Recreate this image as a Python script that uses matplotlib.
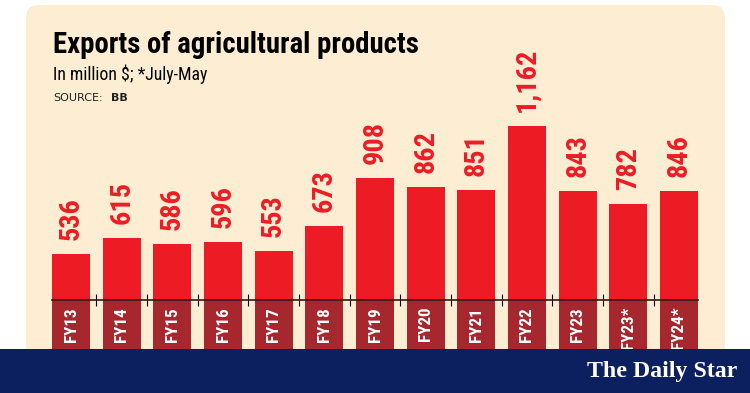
import numpy as np
import matplotlib
matplotlib.use("Agg")
import matplotlib.pyplot as plt
from matplotlib import font_manager
from matplotlib.patches import FancyBboxPatch, Rectangle

# data
years = ["FY13", "FY14", "FY15", "FY16", "FY17", "FY18", "FY19",
         "FY20", "FY21", "FY22", "FY23", "FY23*", "FY24*"]
exports = [536, 615, 586, 596, 553, 673, 908, 862, 851, 1162, 843, 782, 846]

base = 311  # value where the axis line sits (truncated axis)

# pick a narrow font if there is one
names = {f.name for f in font_manager.fontManager.ttflist}
cond_names = sorted({f.name for f in font_manager.fontManager.ttflist
                     if f.stretch in ("condensed", "semi-condensed", "extra-condensed")})
narrow_family = "Roboto"
for cand in ["Liberation Sans Narrow", "DejaVu Sans Condensed", "Roboto Condensed",
             "Noto Sans Condensed", "Open Sans Condensed"] + cond_names:
    if cand in names:
        narrow_family = cand
        break

red = "#ED1C24"
dark_red = "#A6282E"
cream = "#FDEED3"
navy = "#0C1F5E"

fig = plt.figure(figsize=(7.5, 3.93), dpi=100)
fig.patch.set_facecolor("white")

# cream panel and navy footer band
panel = FancyBboxPatch((0.26, 0.30), 6.99, 3.58, boxstyle="round,pad=0,rounding_size=0.13",
                       transform=fig.dpi_scale_trans, facecolor=cream, edgecolor="none", zorder=-1)
fig.add_artist(panel)
band = Rectangle((0, 0), 7.5, 0.44, transform=fig.dpi_scale_trans,
                 facecolor=navy, edgecolor="none", zorder=5)
fig.add_artist(band)

# axes placed in pixels
W, H = 750, 393
left_px, right_px = 45.67, 704.33
bottom_px, top_px = 349, 20
ax = fig.add_axes([left_px / W, 1 - bottom_px / H, (right_px - left_px) / W, (bottom_px - top_px) / H])
ax.set_facecolor("none")

px_per_unit = 0.2045
ylow = base - (bottom_px - 300) / px_per_unit
yhigh = base + (300 - top_px) / px_per_unit
ax.set_ylim(ylow, yhigh)
ax.set_xlim(-0.5, len(years) - 0.5)

x = np.arange(len(years))
bw = 0.75
ax.bar(x, exports, width=bw, color=red, zorder=1)
ax.bar(x, base - ylow, bottom=ylow, width=bw, color=dark_red, zorder=1)

val_texts = []
for i, v in enumerate(exports):
    t = ax.annotate(f"{v:,}", xy=(i, v), xytext=(0, 10), textcoords="offset points",
                    rotation=90, ha="center", va="bottom", fontsize=20, fontweight="bold",
                    color=red, family=narrow_family)
    val_texts.append(t)

fy_texts = []
for i, lab in enumerate(years):
    t = ax.annotate(lab, xy=(i, base), xytext=(0, -5), textcoords="offset points",
                    rotation=90, ha="center", va="top", fontsize=14, fontweight="bold",
                    color="white", family=narrow_family)
    fy_texts.append(t)

for s in ["top", "left", "right"]:
    ax.spines[s].set_visible(False)
ax.spines["bottom"].set_position(("data", base))
ax.spines["bottom"].set_bounds(-bw / 2, len(years) - 1 + bw / 2)
ax.spines["bottom"].set_color("#3a1616")
ax.spines["bottom"].set_linewidth(1.2)
ax.set_xticks(x[:-1] + 0.5)
ax.tick_params(axis="x", direction="inout", length=8, width=0.8, color="black", labelbottom=False)
ax.set_yticks([])

# titles
title = fig.text(53 / W, 1 - 53 / H, "Exports of agricultural products", fontsize=20, fontweight="bold",
                 color="black", ha="left", va="baseline", family=narrow_family)
sub = fig.text(53 / W, 1 - 80 / H, "In million $; *July-May", fontsize=13,
               color="black", ha="left", va="baseline", family=narrow_family)
src = fig.text(53 / W, 1 - 101 / H, "SOURCE:", fontsize=8, color="#222222", ha="left", va="baseline",
               family="DejaVu Sans")
bb = fig.text(111 / W, 1 - 101 / H, "BB", fontsize=8, fontweight="bold", color="#222222",
              ha="left", va="baseline", family="DejaVu Sans")
logo = fig.text(662 / W, 1 - 372 / H, "The Daily Star", fontsize=17, fontweight="bold",
                color="white", ha="center", va="center", family="Liberation Serif", zorder=6)


# shrink or grow texts so their length matches the reference
def fit(texts, ref_text, target_px, vertical=False):
    fig.canvas.draw()
    r = fig.canvas.get_renderer()
    bbox = ref_text.get_window_extent(r)
    cur = bbox.height if vertical else bbox.width
    k = target_px / cur
    for t in texts:
        t.set_fontsize(t.get_fontsize() * k)


fit([title], title, 365)
fit([sub], sub, 154)
fit(val_texts, val_texts[0], 43, vertical=True)
fit(fy_texts, fy_texts[0], 35, vertical=True)
fit([logo], logo, 150)

fig.savefig("out.png", dpi=100)
